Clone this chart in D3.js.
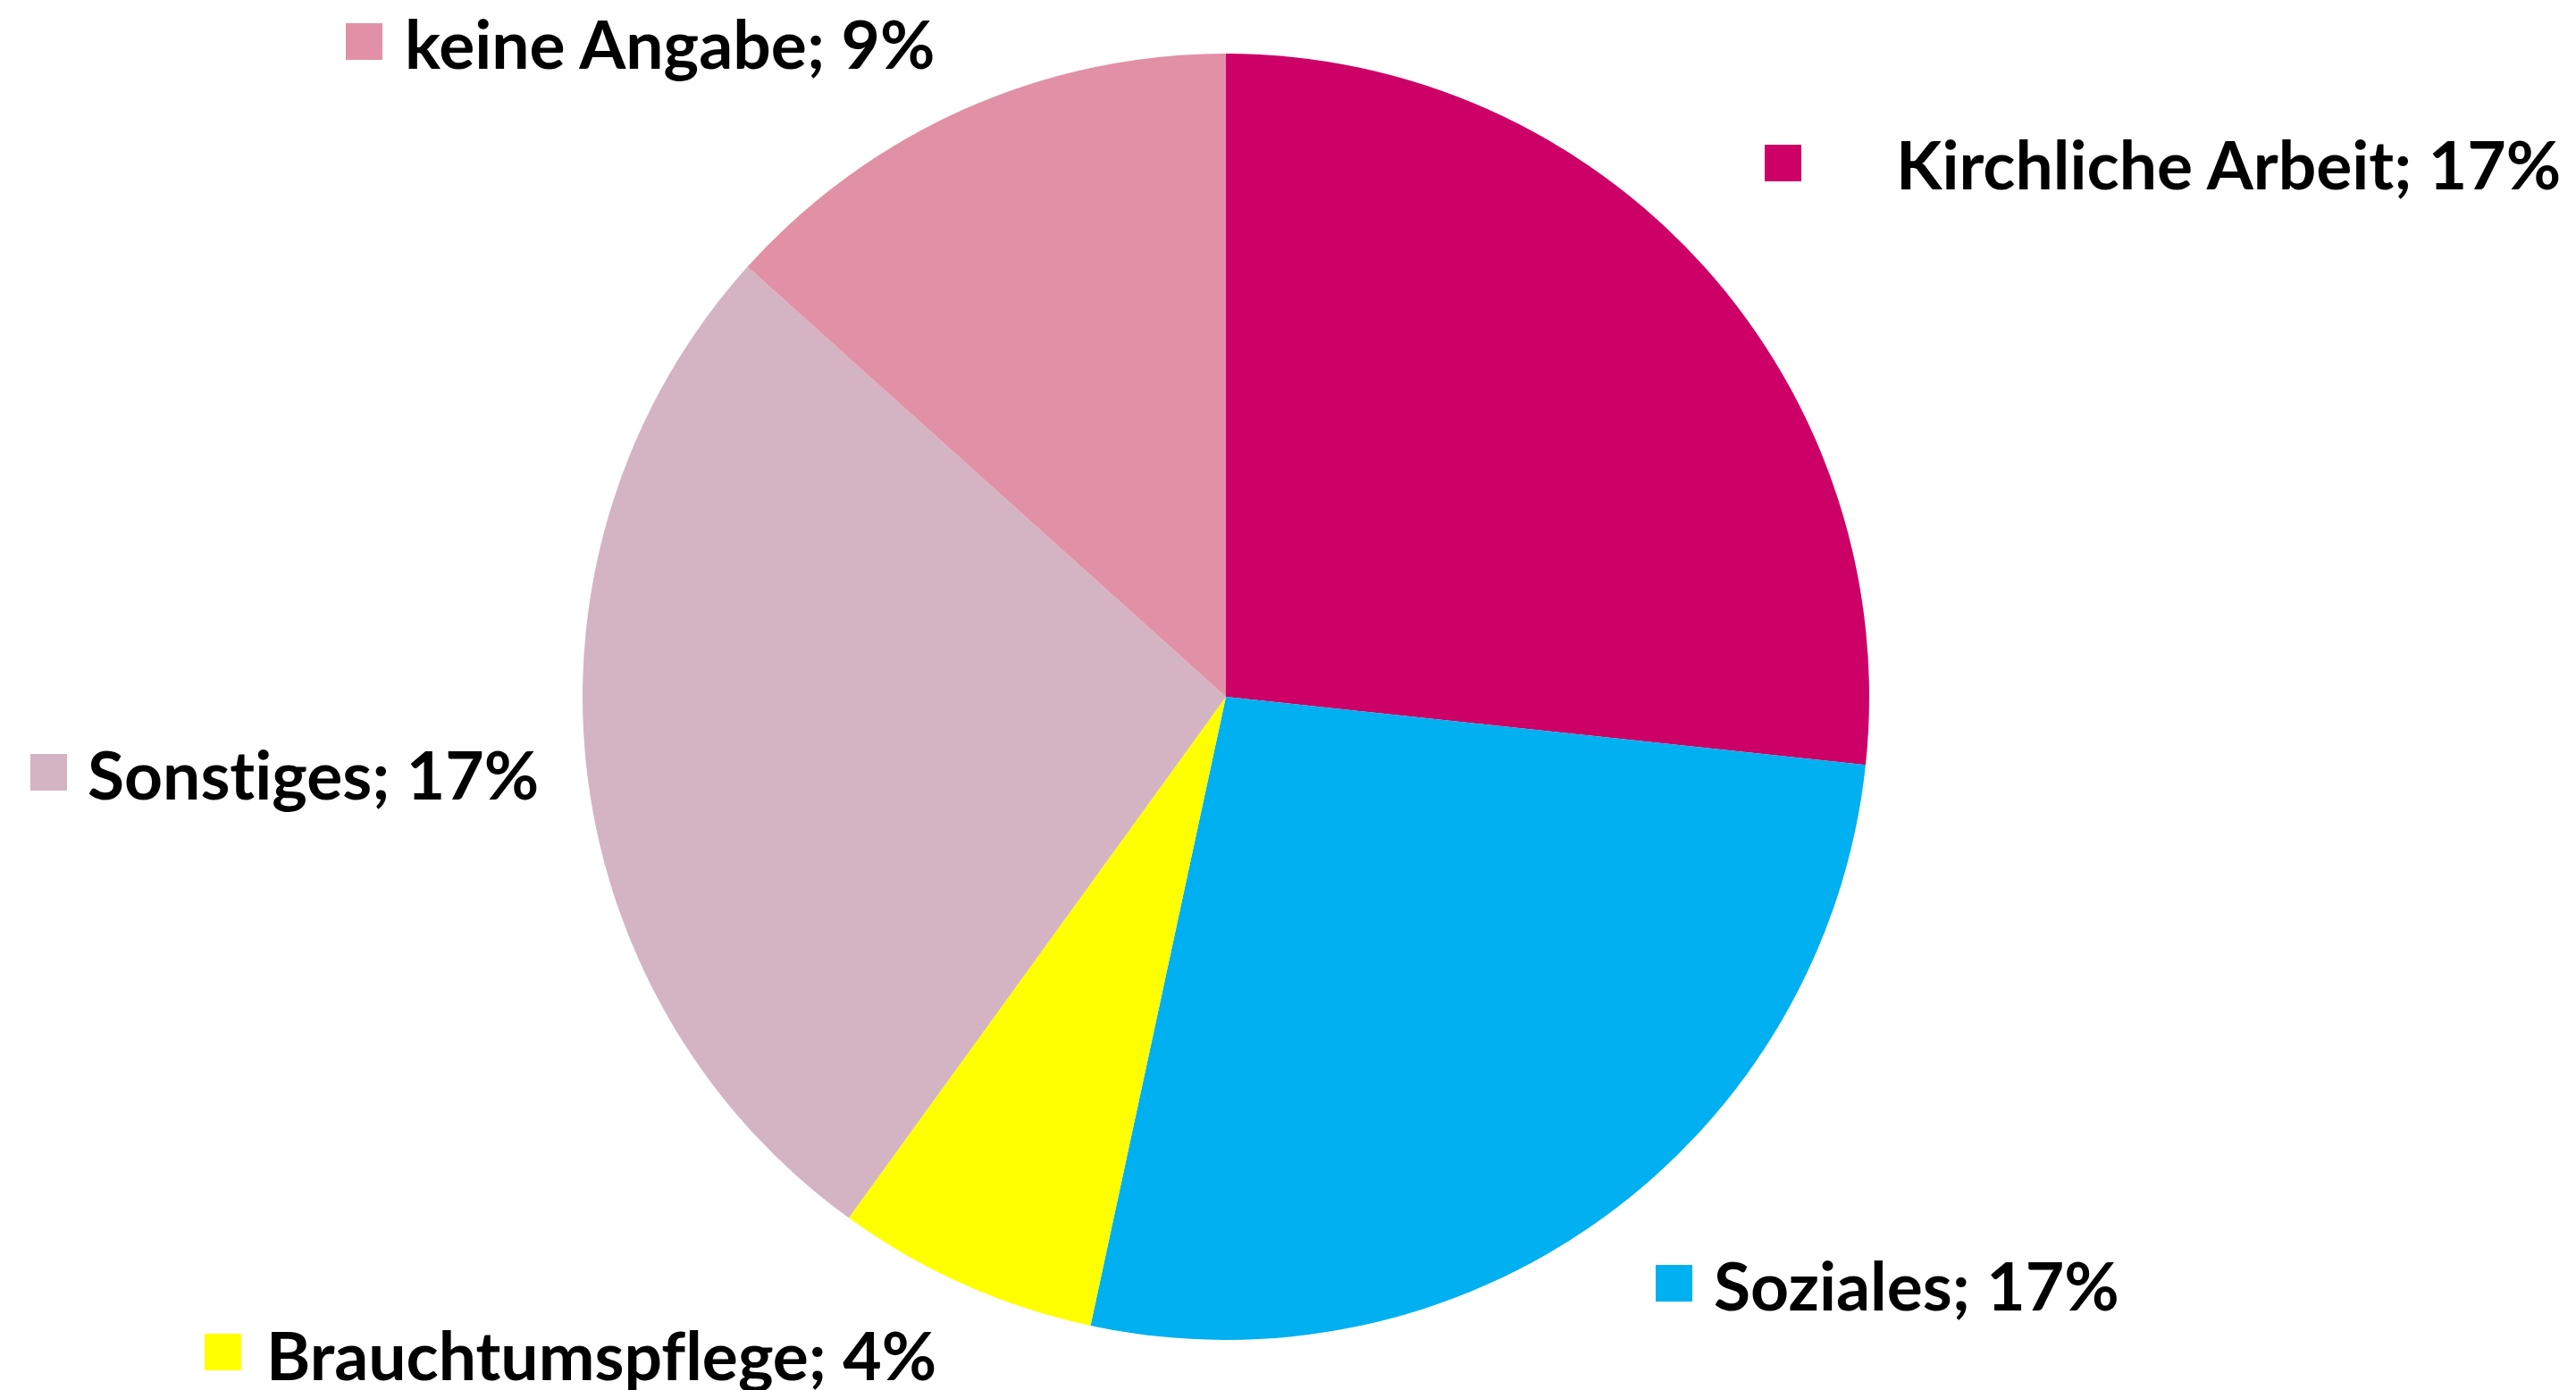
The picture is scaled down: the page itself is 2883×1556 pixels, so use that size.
<!DOCTYPE html>
<html>
<head>
<meta charset="utf-8">
<script src="https://cdn.jsdelivr.net/npm/d3@7"></script>
<style>
  html, body { margin: 0; padding: 0; background: #ffffff; }
  svg text { font-family: Lato, "Open Sans", sans-serif; font-weight: bold; font-variant-ligatures: none; }
</style>
</head>
<body>
<div id="chart"></div>
<script>
// data (percent of respondents)
const categories = ["Kirchliche Arbeit", "Soziales", "Brauchtumspflege", "Sonstiges", "keine Angabe"];
const values = [17.4, 17.4, 4.3, 17.4, 8.7];
const colors = ["#cc0066", "#00b0f0", "#ffff00", "#d4b4c2", "#e290a6"];

// where each legend-like label sits (square top-left, text start, baseline)
const labelLayout = [
    { sx: 1975, sy: 162, tx: 2122, ty: 212 },
    { sx: 1853, sy: 1416, tx: 1918, ty: 1467 },
    { sx: 229, sy: 1493, tx: 298, ty: 1545 },
    { sx: 34, sy: 844, tx: 98, ty: 895 },
    { sx: 387, sy: 26, tx: 453, ty: 77 }
];

const width = 2883,
    height = 1556,
    cx = 1372,
    cy = 780,
    radius = 720,
    box = 41;

const data = categories.map((c, i) => ({ name: c, value: values[i], color: colors[i], pos: labelLayout[i] }));

const svg = d3.select("#chart")
    .append("svg")
    .attr("width", width)
    .attr("height", height);

const pie = d3.pie()
    .sort(null)
    .value(d => d.value)
    .startAngle(0)
    .endAngle(2 * Math.PI);

const arc = d3.arc()
    .innerRadius(0)
    .outerRadius(radius);

svg.append("g")
    .attr("transform", `translate(${cx},${cy})`)
    .selectAll("path")
    .data(pie(data))
    .join("path")
    .attr("fill", d => d.data.color)
    .attr("d", arc);

const fmt = d3.format(".0f");

const labels = svg.append("g")
    .selectAll("g")
    .data(data)
    .join("g");

labels.append("rect")
    .attr("x", d => d.pos.sx)
    .attr("y", d => d.pos.sy)
    .attr("width", box)
    .attr("height", box)
    .attr("fill", d => d.color);

labels.append("text")
    .attr("x", d => d.pos.tx)
    .attr("y", d => d.pos.ty)
    .style("font-size", "75px")
    .attr("fill", "#000000")
    .text(d => d.name + "; " + fmt(d.value) + "%");
</script>
</body>
</html>
